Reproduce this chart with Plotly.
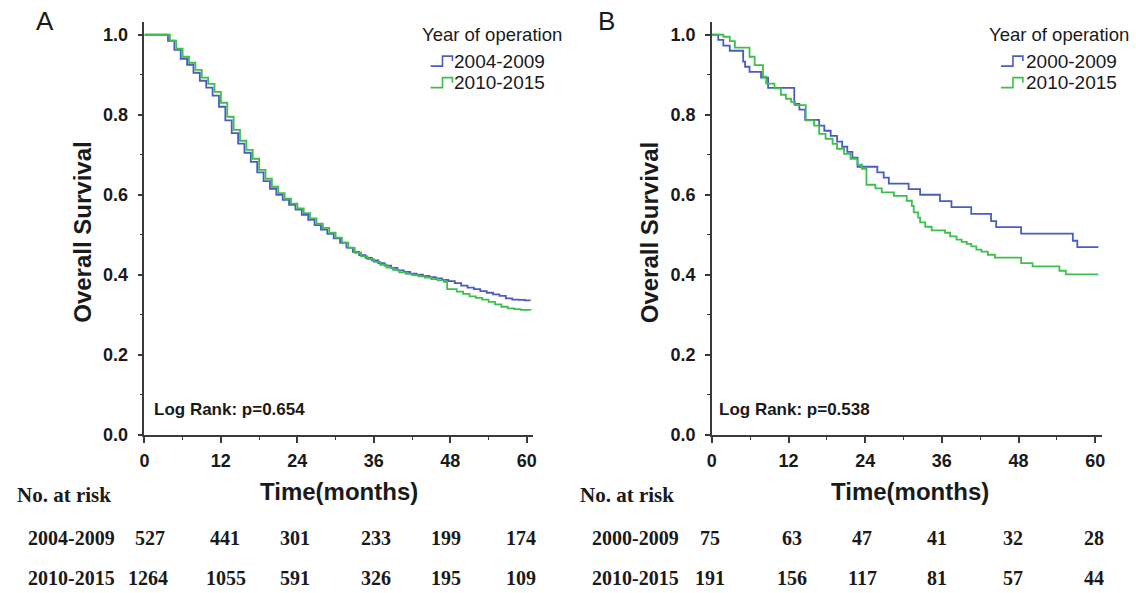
import plotly.graph_objects as go

# ---------------- data ----------------
# Panel A (Kaplan-Meier steps: time of step, survival after step)
a_blue_t = [0, 3.7, 4.7, 5.7, 6.7, 7.7, 8.7, 9.7, 10.7, 11.7, 12.7, 13.7, 14.7, 15.7, 16.7, 17.7,
            18.7, 19.7, 20.7, 21.7, 22.7, 23.7, 24.7, 25.7, 26.7, 27.7, 28.7, 29.7, 30.7, 31.7,
            32.7, 33.7, 34.7, 35.7, 36.7, 37.7, 38.7, 39.7, 40.7, 41.7, 42.7, 43.7, 44.7, 45.7,
            46.7, 47.7, 48.7, 49.7, 50.7, 51.7, 52.7, 53.7, 54.7, 55.7, 56.7, 57.7, 58.7, 59.7, 60.6]
a_blue_s = [1.0, 0.985, 0.962, 0.940, 0.925, 0.905, 0.885, 0.868, 0.848, 0.820, 0.786, 0.754,
            0.728, 0.705, 0.682, 0.656, 0.634, 0.615, 0.600, 0.587, 0.575, 0.563, 0.550, 0.537,
            0.524, 0.513, 0.502, 0.491, 0.480, 0.468, 0.457, 0.449, 0.442, 0.436, 0.429, 0.423,
            0.417, 0.411, 0.407, 0.403, 0.400, 0.397, 0.394, 0.391, 0.387, 0.384, 0.379, 0.373,
            0.368, 0.364, 0.359, 0.355, 0.351, 0.347, 0.341, 0.338, 0.337, 0.336, 0.336]
a_green_t = [0, 4, 5, 6, 7, 8, 9, 10, 11, 12, 13, 14, 15, 16, 17, 18, 19, 20, 21, 22, 23, 24,
             25, 26, 27, 28, 29, 30, 31, 32, 33, 34, 35, 36, 37, 38, 39, 40, 41, 42, 43, 44, 45,
             46, 47, 47.5, 49, 50, 51, 52, 53, 54, 55, 56, 57, 58, 59, 60.6]
a_green_s = [1.0, 0.985, 0.965, 0.945, 0.930, 0.912, 0.893, 0.877, 0.857, 0.830, 0.795, 0.762,
             0.735, 0.712, 0.690, 0.662, 0.640, 0.620, 0.604, 0.590, 0.578, 0.566, 0.554, 0.541,
             0.528, 0.517, 0.505, 0.493, 0.480, 0.467, 0.455, 0.446, 0.439, 0.432, 0.425, 0.418,
             0.412, 0.406, 0.402, 0.399, 0.396, 0.393, 0.389, 0.386, 0.382, 0.364, 0.358, 0.352,
             0.346, 0.342, 0.338, 0.332, 0.326, 0.320, 0.316, 0.314, 0.312, 0.311]

# Panel B
b_blue_t = [0, 1.0, 1.8, 2.8, 4.9, 5.2, 5.9, 7.7, 8.8, 12.9, 13.7, 14.6, 16.8, 17.6, 18.6, 19.6,
            20.4, 21.2, 22.0, 22.8, 25.9, 26.9, 27.7, 30.8, 32.6, 35.7, 37.5, 40.6, 43.7, 44.5,
            48.4, 56.5, 57.2, 60.5]
b_blue_s = [1.0, 0.987, 0.973, 0.960, 0.933, 0.920, 0.907, 0.893, 0.867, 0.827, 0.813, 0.787,
            0.773, 0.760, 0.747, 0.733, 0.720, 0.707, 0.693, 0.670, 0.656, 0.643, 0.628, 0.614,
            0.600, 0.584, 0.569, 0.552, 0.534, 0.519, 0.503, 0.485, 0.469, 0.469]
b_green_t = [0, 1.8, 2.8, 3.6, 5.9, 6.7, 8.0, 8.5, 9.8, 10.8, 11.6, 12.4, 13.0, 14.7, 16.0, 16.8,
             17.8, 18.9, 19.6, 20.7, 21.7, 22.8, 23.5, 24.2, 25.6, 26.6, 28.5, 30.5, 31.3, 31.6,
             32.3, 32.6, 33.4, 34.4, 36.5, 37.3, 38.3, 39.1, 39.9, 40.6, 41.4, 42.2, 43.2, 44.3,
             48.4, 50.2, 54.4, 55.4, 60.5]
b_green_s = [1.0, 0.995, 0.984, 0.968, 0.945, 0.924, 0.895, 0.878, 0.866, 0.850, 0.840, 0.832,
             0.824, 0.786, 0.773, 0.752, 0.740, 0.727, 0.715, 0.702, 0.690, 0.675, 0.665, 0.625,
             0.616, 0.606, 0.597, 0.585, 0.572, 0.556, 0.543, 0.531, 0.520, 0.511, 0.505, 0.496,
             0.488, 0.482, 0.477, 0.471, 0.463, 0.458, 0.450, 0.443, 0.429, 0.421, 0.410, 0.401,
             0.401]

a_groups = ["2004-2009", "2010-2015"]
b_groups = ["2000-2009", "2010-2015"]
risk_times = [0, 12, 24, 36, 48, 60]
a_risk_1 = [527, 441, 301, 233, 199, 174]
a_risk_2 = [1264, 1055, 591, 326, 195, 109]
b_risk_1 = [75, 63, 47, 41, 32, 28]
b_risk_2 = [191, 156, 117, 81, 57, 44]
a_pvalue = "Log Rank: p=0.654"
b_pvalue = "Log Rank: p=0.538"
x_ticks = [0, 12, 24, 36, 48, 60]
x_minor = [6, 18, 30, 42, 54]
y_ticks = [0, 0.2, 0.4, 0.6, 0.8, 1.0]
y_ticktext = ["0.0", "0.2", "0.4", "0.6", "0.8", "1.0"]
y_minor = [0.1, 0.3, 0.5, 0.7, 0.9]

# ---------------- style ----------------
W = 1136
REF_H = 593          # layout positions below are given in reference pixels
H = 604              # figure height (the capture shows it slightly compressed)
BLUE = "#4a5cc4"
GREEN = "#3dbf4c"
AXC = "#3a3a3a"
TXT = "#1a1a1a"
SANS = "Liberation Sans, Arial, sans-serif"
SERIF = "Liberation Serif, Times New Roman, serif"


def px(x):
    return x / W


def py(y):
    return 1 - y / REF_H


fig = go.Figure()
fig.add_trace(go.Scatter(x=a_blue_t, y=a_blue_s, mode="lines", line=dict(color=BLUE, width=1.8, shape="hv"),
                         xaxis="x", yaxis="y", name=a_groups[0]))
fig.add_trace(go.Scatter(x=a_green_t, y=a_green_s, mode="lines", line=dict(color=GREEN, width=1.8, shape="hv"),
                         xaxis="x", yaxis="y", name=a_groups[1]))
fig.add_trace(go.Scatter(x=b_blue_t, y=b_blue_s, mode="lines", line=dict(color=BLUE, width=1.8, shape="hv"),
                         xaxis="x2", yaxis="y2", name=b_groups[0]))
fig.add_trace(go.Scatter(x=b_green_t, y=b_green_s, mode="lines", line=dict(color=GREEN, width=1.8, shape="hv"),
                         xaxis="x2", yaxis="y2", name=b_groups[1]))

tickfont = dict(family=SANS, size=18, color=TXT, weight="bold")


def xax(domain, anchor):
    return dict(domain=domain, anchor=anchor, range=[0, 61], showline=True, linecolor=AXC, linewidth=1.6,
                ticks="outside", ticklen=6, tickwidth=1.5, tickcolor=AXC, tickvals=x_ticks,
                showgrid=False, zeroline=False, tickfont=tickfont, ticklabelstandoff=3,
                minor=dict(tickvals=x_minor, ticks="outside", ticklen=3, tickwidth=1.3, tickcolor=AXC,
                           showgrid=False))


def yax(domain, anchor):
    return dict(domain=domain, anchor=anchor, range=[0, 1.033], showline=True, linecolor=AXC, linewidth=1.6,
                ticks="outside", ticklen=5, tickwidth=1.5, tickcolor=AXC, tickvals=y_ticks,
                ticktext=y_ticktext, showgrid=False, zeroline=False, tickfont=tickfont,
                ticklabelstandoff=6,
                minor=dict(tickvals=y_minor, ticks="outside", ticklen=3, tickwidth=1.3, tickcolor=AXC,
                           showgrid=False))


ydom = [py(434), py(434 - 1.033 * 399.3)]

annotations = []


def text(x, y, s, size, bold=True, family=SANS, xanchor="center", angle=0, xref="paper", xshift=0):
    annotations.append(dict(x=x if xref != "paper" else px(x), y=py(y), xref=xref, yref="paper", text=s,
                            showarrow=False, xanchor=xanchor, yanchor="middle", textangle=angle,
                            xshift=xshift, borderpad=0,
                            font=dict(family=family, size=size, color=TXT,
                                      weight="bold" if bold else "normal")))


shapes = []


def glyph(x0, yc, color):
    path = (f"M {px(x0)},{py(yc + 5)} L {px(x0 + 12)},{py(yc + 5)} L {px(x0 + 12)},{py(yc - 5)} "
            f"L {px(x0 + 22)},{py(yc - 5)} L {px(x0 + 22)},{py(yc)}")
    shapes.append(dict(type="path", path=path, xref="paper", yref="paper",
                       line=dict(color=color, width=1.6)))


panels = [
    dict(label="A", lx=40, axx="x", ylab_x=78, time_x=337, p=a_pvalue, p_x=149, groups=a_groups,
         risks=[a_risk_1, a_risk_2], shifts=[[6, 4, -2, 2, -4, -6], [4, 5, -2, 2, -4, -6]],
         nar_x=59, grp_x=67, leg_title_x=562, glyph_x=429, leg_text_x=452),
    dict(label="B", lx=606, axx="x2", ylab_x=650, time_x=912, p=b_pvalue, p_x=719, groups=b_groups,
         risks=[b_risk_1, b_risk_2], shifts=[[-2, 3, -3, -5, -6, -1], [-2, 3, -3, -5, -6, -1]],
         nar_x=627, grp_x=636, leg_title_x=1134, glyph_x=1004, leg_text_x=1028),
]

for pnl in panels:
    text(pnl["lx"], 21, pnl["label"], 26, bold=False)
    text(pnl["ylab_x"], 232, "Overall Survival", 24, angle=-90)
    text(pnl["time_x"], 491, "Time(months)", 24)
    text(pnl["p_x"], 409, pnl["p"], 17, xanchor="left")
    # legend
    text(pnl["leg_title_x"], 34, "Year of operation", 18.5, bold=False, xanchor="right")
    for i, (g, c) in enumerate(zip(pnl["groups"], [BLUE, GREEN])):
        yc = 61 + i * 21.5
        glyph(pnl["glyph_x"], yc, c)
        text(pnl["leg_text_x"], yc, g, 19, bold=False, xanchor="left")
    # number at risk table
    text(pnl["nar_x"], 494, "No. at risk", 21, family=SERIF)
    for i, (g, row) in enumerate(zip(pnl["groups"], pnl["risks"])):
        yr = 537 + i * 40
        text(pnl["grp_x"], yr, g, 20, family=SERIF)
        for t, v, sh in zip(risk_times, row, pnl["shifts"][i]):
            text(t, yr, str(v), 20, family=SERIF, xref=pnl["axx"], xshift=sh)

fig.update_layout(
    width=W, height=H, autosize=False, margin=dict(l=0, r=0, t=0, b=0),
    paper_bgcolor="white", plot_bgcolor="white", showlegend=False,
    xaxis=xax([px(140.5), px(140.5 + 61 * 6.425)], "y"),
    yaxis=yax(ydom, "x"),
    xaxis2=xax([px(712.5), px(712.5 + 61 * 6.44)], "y2"),
    yaxis2=yax(ydom, "x2"),
    annotations=annotations, shapes=shapes,
)

# remove the default page margin so the figure sits at the window's corner
fig.write_html("out.html", config={"displayModeBar": False},
               post_script="document.body.style.margin='0';document.body.style.overflow='hidden';")
